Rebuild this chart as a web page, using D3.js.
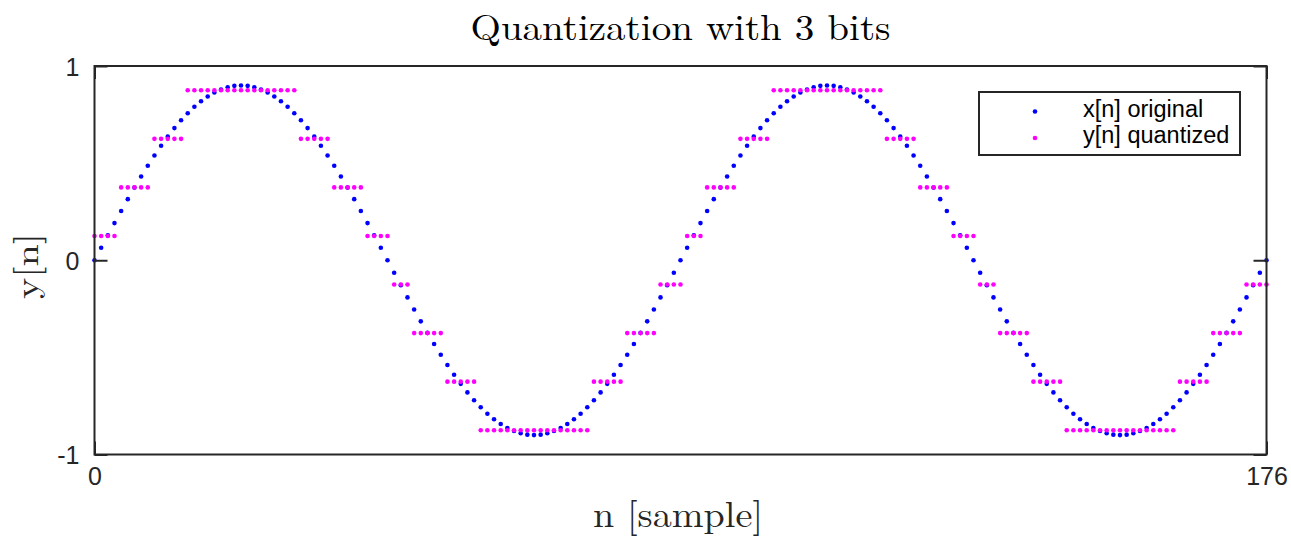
<!DOCTYPE html>
<html>
<head>
<meta charset="utf-8">
<script src="https://cdn.jsdelivr.net/npm/d3@7"></script>
<style>
  html, body { margin: 0; padding: 0; background: #fff; }
  svg { display: block; }
  .tick text { font-family: "Liberation Sans", Arial, sans-serif; fill: #262626; }
</style>
</head>
<body>
<svg id="chart" width="1291" height="540"></svg>
<script>
// Original samples x[n], n = 0..176 (two periods of 88 samples)
const xOriginal = [
  0, 0.0642, 0.1281, 0.1913, 0.2536, 0.3145, 0.3739, 0.4313, 0.4866, 0.5393, 0.5894,
  0.6364, 0.6802, 0.7205, 0.7571, 0.7899, 0.8187, 0.8433, 0.8635, 0.8794, 0.8908, 0.8977,
  0.9000, 0.8977, 0.8908, 0.8794, 0.8635, 0.8433, 0.8187, 0.7899, 0.7571, 0.7205, 0.6802,
  0.6364, 0.5894, 0.5393, 0.4866, 0.4313, 0.3739, 0.3145, 0.2536, 0.1913, 0.1281, 0.0642,
  0, -0.0642, -0.1281, -0.1913, -0.2536, -0.3145, -0.3739, -0.4313, -0.4866, -0.5393, -0.5894,
  -0.6364, -0.6802, -0.7205, -0.7571, -0.7899, -0.8187, -0.8433, -0.8635, -0.8794, -0.8908, -0.8977,
  -0.9000, -0.8977, -0.8908, -0.8794, -0.8635, -0.8433, -0.8187, -0.7899, -0.7571, -0.7205, -0.6802,
  -0.6364, -0.5894, -0.5393, -0.4866, -0.4313, -0.3739, -0.3145, -0.2536, -0.1913, -0.1281, -0.0642,
  0, 0.0642, 0.1281, 0.1913, 0.2536, 0.3145, 0.3739, 0.4313, 0.4866, 0.5393, 0.5894,
  0.6364, 0.6802, 0.7205, 0.7571, 0.7899, 0.8187, 0.8433, 0.8635, 0.8794, 0.8908, 0.8977,
  0.9000, 0.8977, 0.8908, 0.8794, 0.8635, 0.8433, 0.8187, 0.7899, 0.7571, 0.7205, 0.6802,
  0.6364, 0.5894, 0.5393, 0.4866, 0.4313, 0.3739, 0.3145, 0.2536, 0.1913, 0.1281, 0.0642,
  0, -0.0642, -0.1281, -0.1913, -0.2536, -0.3145, -0.3739, -0.4313, -0.4866, -0.5393, -0.5894,
  -0.6364, -0.6802, -0.7205, -0.7571, -0.7899, -0.8187, -0.8433, -0.8635, -0.8794, -0.8908, -0.8977,
  -0.9000, -0.8977, -0.8908, -0.8794, -0.8635, -0.8433, -0.8187, -0.7899, -0.7571, -0.7205, -0.6802,
  -0.6364, -0.5894, -0.5393, -0.4866, -0.4313, -0.3739, -0.3145, -0.2536, -0.1913, -0.1281, -0.0642,
  0
];

// Quantized samples y[n] (3-bit mid-rise levels)
const yQuantized = [
  0.125, 0.125, 0.125, 0.125, 0.375, 0.375, 0.375, 0.375, 0.375, 0.625, 0.625,
  0.625, 0.625, 0.625, 0.875, 0.875, 0.875, 0.875, 0.875, 0.875, 0.875, 0.875,
  0.875, 0.875, 0.875, 0.875, 0.875, 0.875, 0.875, 0.875, 0.875, 0.625, 0.625,
  0.625, 0.625, 0.625, 0.375, 0.375, 0.375, 0.375, 0.375, 0.125, 0.125, 0.125,
  0.125, -0.125, -0.125, -0.125, -0.375, -0.375, -0.375, -0.375, -0.375, -0.625, -0.625,
  -0.625, -0.625, -0.625, -0.875, -0.875, -0.875, -0.875, -0.875, -0.875, -0.875, -0.875,
  -0.875, -0.875, -0.875, -0.875, -0.875, -0.875, -0.875, -0.875, -0.875, -0.625, -0.625,
  -0.625, -0.625, -0.625, -0.375, -0.375, -0.375, -0.375, -0.375, -0.125, -0.125, -0.125,
  -0.125, 0.125, 0.125, 0.125, 0.375, 0.375, 0.375, 0.375, 0.375, 0.625, 0.625,
  0.625, 0.625, 0.625, 0.875, 0.875, 0.875, 0.875, 0.875, 0.875, 0.875, 0.875,
  0.875, 0.875, 0.875, 0.875, 0.875, 0.875, 0.875, 0.875, 0.875, 0.625, 0.625,
  0.625, 0.625, 0.625, 0.375, 0.375, 0.375, 0.375, 0.375, 0.125, 0.125, 0.125,
  0.125, -0.125, -0.125, -0.125, -0.375, -0.375, -0.375, -0.375, -0.375, -0.625, -0.625,
  -0.625, -0.625, -0.625, -0.875, -0.875, -0.875, -0.875, -0.875, -0.875, -0.875, -0.875,
  -0.875, -0.875, -0.875, -0.875, -0.875, -0.875, -0.875, -0.875, -0.875, -0.625, -0.625,
  -0.625, -0.625, -0.625, -0.375, -0.375, -0.375, -0.375, -0.375, -0.125, -0.125, -0.125,
  -0.125
];

const xTicks = [0, 176];
const yTicks = [-1, 0, 1];
const xTickLabels = ["0", "176"];
const yTickLabels = ["-1", "0", "1"];
const seriesNames = ["x[n] original", "y[n] quantized"];
const seriesColors = ["#0000ff", "#ff00ff"];

const svg = d3.select("#chart");
const plotLeft = 94.5, plotRight = 1266.5, plotTop = 66, plotBottom = 454.5;
const axisColor = "#262626";

const x = d3.scaleLinear().domain([0, 176]).range([plotLeft, plotRight]);
const y = d3.scaleLinear().domain([-1, 1]).range([plotBottom, plotTop]);

// Sample dots: original first, quantized drawn on top
const series = [xOriginal, yQuantized];
series.forEach((vals, si) => {
  svg.append("g")
    .selectAll("circle")
    .data(vals)
    .join("circle")
    .attr("cx", (d, i) => x(i))
    .attr("cy", d => y(d))
    .attr("r", 2.3)
    .attr("fill", seriesColors[si]);
});

// Axes with inward ticks on all four sides
function styleAxis(g) {
  g.select(".domain").remove();
  g.selectAll(".tick line").attr("stroke", axisColor).attr("stroke-width", 2);
}

svg.append("g")
  .attr("transform", `translate(${plotLeft},0)`)
  .call(d3.axisLeft(y).tickValues(yTicks).tickSizeInner(-13).tickSizeOuter(0).tickPadding(15)
    .tickFormat((d, i) => yTickLabels[i]))
  .call(styleAxis)
  .call(g => g.selectAll(".tick text").attr("font-size", 25).attr("dy", "0.36em"));

svg.append("g")
  .attr("transform", `translate(${plotRight},0)`)
  .call(d3.axisRight(y).tickValues(yTicks).tickSizeInner(-13).tickSizeOuter(0).tickFormat(""))
  .call(styleAxis);

svg.append("g")
  .attr("transform", `translate(0,${plotBottom})`)
  .call(d3.axisBottom(x).tickValues(xTicks).tickSizeInner(-13).tickSizeOuter(0).tickPadding(13)
    .tickFormat((d, i) => xTickLabels[i]))
  .call(styleAxis)
  .call(g => g.selectAll(".tick text").attr("font-size", 25));

svg.append("g")
  .attr("transform", `translate(0,${plotTop})`)
  .call(d3.axisTop(x).tickValues(xTicks).tickSizeInner(-13).tickSizeOuter(0).tickFormat(""))
  .call(styleAxis);

// Plot box
svg.append("rect")
  .attr("x", plotLeft).attr("y", plotTop)
  .attr("width", plotRight - plotLeft).attr("height", plotBottom - plotTop)
  .attr("fill", "none").attr("stroke", axisColor).attr("stroke-width", 2);

// Title and axis labels
const serif = "'Latin Modern Roman', 'CMU Serif', 'Liberation Serif', 'DejaVu Serif', serif";
svg.append("text")
  .attr("x", (plotLeft + plotRight) / 2).attr("y", 40)
  .attr("text-anchor", "middle")
  .attr("font-family", serif).attr("font-size", 36)
  .attr("textLength", 420).attr("lengthAdjust", "spacingAndGlyphs")
  .attr("fill", "#000")
  .text("Quantization with 3 bits");

svg.append("text")
  .attr("x", 678).attr("y", 527)
  .attr("text-anchor", "middle")
  .attr("font-family", serif).attr("font-size", 36)
  .attr("textLength", 170).attr("lengthAdjust", "spacingAndGlyphs")
  .attr("fill", "#262626")
  .text("n [sample]");

svg.append("text")
  .attr("transform", "translate(38,266) rotate(-90)")
  .attr("text-anchor", "middle")
  .attr("font-family", serif).attr("font-size", 33)
  .attr("textLength", 66).attr("lengthAdjust", "spacingAndGlyphs")
  .attr("fill", "#262626")
  .text("y[n]");

// Legend
const legend = svg.append("g");
legend.append("rect")
  .attr("x", 979).attr("y", 92)
  .attr("width", 261).attr("height", 63)
  .attr("fill", "#fff").attr("stroke", axisColor).attr("stroke-width", 2);

seriesNames.forEach((name, i) => {
  const cy = 111.5 + i * 26.5;
  legend.append("circle")
    .attr("cx", 1035).attr("cy", cy).attr("r", 2.3)
    .attr("fill", seriesColors[i]);
  legend.append("text")
    .attr("x", 1083).attr("y", cy + 5)
    .attr("font-family", "'Liberation Sans', Arial, sans-serif")
    .attr("font-size", 23.5)
    .attr("fill", "#000")
    .text(name);
});
</script>
</body>
</html>
